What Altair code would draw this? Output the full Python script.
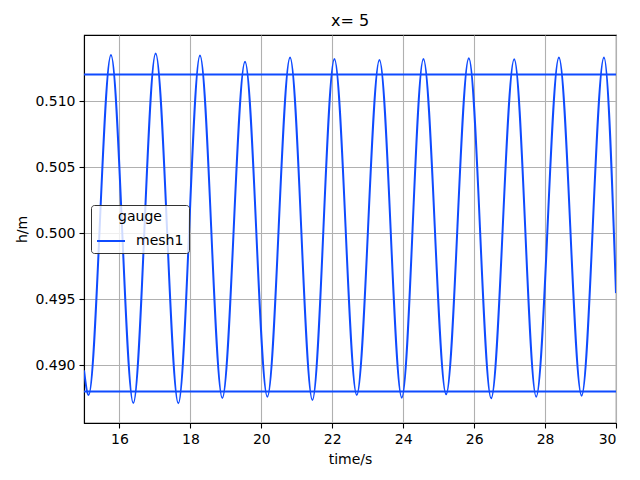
import altair as alt
import pandas as pd

times = [15.0, 15.13, 15.76, 16.39, 17.02, 17.66, 18.27, 18.90, 19.54, 20.17,
         20.81, 21.44, 22.06, 22.69, 23.33, 23.96, 24.57, 25.21, 25.85, 26.48,
         27.13, 27.75, 28.39, 29.03, 29.66, 30.0]
heights = [0.4896, 0.48773, 0.51348, 0.48712, 0.5136, 0.4871, 0.51344, 0.4875,
           0.51298, 0.48760, 0.51329, 0.48735, 0.51318, 0.48773, 0.5131, 0.48753,
           0.51318, 0.48778, 0.51323, 0.48748, 0.51316, 0.4876, 0.5133, 0.48768,
           0.51329, 0.49545]
series_name = "mesh1"
ref_levels = [0.512, 0.488]
x_ticks = [16, 18, 20, 22, 24, 26, 28, 30]
y_ticks = [0.490, 0.495, 0.500, 0.505, 0.510]

BLUE = "#0f4bff"
FONT = "DejaVu Sans"

df = pd.DataFrame({"time": times, "h": heights, "gauge": [series_name] * len(times)})
ref_df = pd.DataFrame({"level": ref_levels})

xscale = alt.Scale(domain=[15, 30], nice=False, zero=False)
yscale = alt.Scale(domain=[0.48561, 0.5150], nice=False, zero=False)

line = alt.Chart(df).mark_line(strokeWidth=2, interpolate="monotone", clip=True).encode(
    x=alt.X("time:Q", scale=xscale, title="time/s",
            axis=alt.Axis(values=x_ticks, format="d")),
    y=alt.Y("h:Q", scale=yscale, title="h/m",
            axis=alt.Axis(values=y_ticks, format=".3f")),
    color=alt.Color("gauge:N", scale=alt.Scale(range=[BLUE]),
                    legend=alt.Legend(title="gauge", orient="none", legendX=7, legendY=170,
                                      symbolType="stroke", symbolSize=784, symbolStrokeWidth=2,
                                      fillColor="rgba(255,255,255,0.8)", strokeColor="#333333",
                                      cornerRadius=3, padding=5, titleAnchor="middle",
                                      titleFont=FONT, titleFontSize=14, titleFontWeight="normal",
                                      labelFont=FONT, labelFontSize=14, labelColor="black",
                                      titleColor="black", labelOffset=10, titlePadding=2)),
)

rules = alt.Chart(ref_df).mark_rule(color=BLUE, strokeWidth=2).encode(
    y=alt.Y("level:Q", scale=yscale)
)

chart = alt.layer(rules, line).properties(
    width=532, height=388,
    title=alt.TitleParams("x= 5", font=FONT, fontSize=16, fontWeight="normal",
                          color="black", offset=6),
    autosize=alt.AutoSizeParams(type="none"),
    padding={"left": 76, "top": 27, "right": 16, "bottom": 49},
).configure_view(stroke="black", strokeWidth=1.1).configure_axis(
    grid=True, gridColor="#b0b0b0", gridWidth=1.1,
    domainColor="black", domainWidth=1.1,
    tickColor="black", tickSize=5, tickWidth=1.1,
    labelFont=FONT, labelFontSize=14, labelColor="black", labelPadding=4,
    titleFont=FONT, titleFontSize=14, titleColor="black", titleFontWeight="normal",
).configure_axisX(titlePadding=6).configure_axisY(titlePadding=5)

chart.save("out.html", embed_options={"renderer": "svg", "actions": False})
